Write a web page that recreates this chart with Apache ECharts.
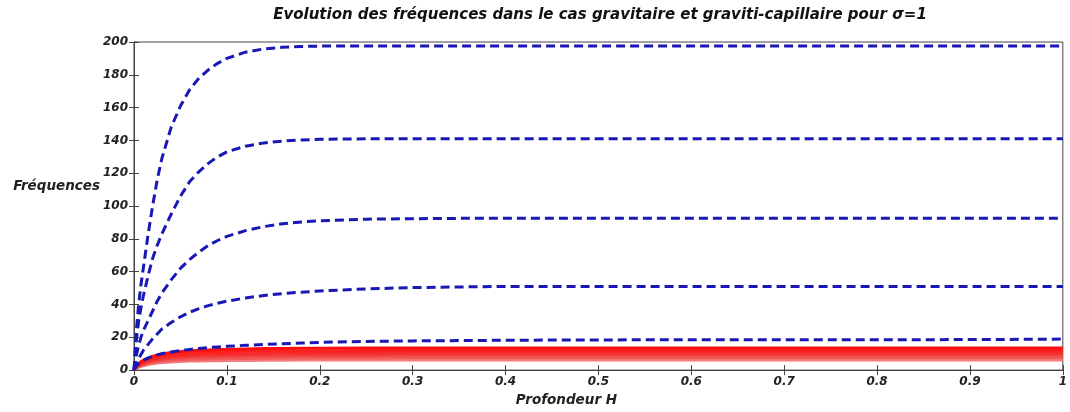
<!DOCTYPE html>
<html>
<head>
<meta charset="utf-8">
<script src="https://cdn.jsdelivr.net/npm/echarts@6/dist/echarts.min.js"></script>
<style>
  html, body { margin: 0; padding: 0; background: #fff; }
  #chart { width: 1070px; height: 412px; }
</style>
</head>
<body>
<div id="chart"></div>
<script>
// Depth samples (Profondeur H), denser near the origin where the curves rise steeply
const depthH = [0, 0.0025, 0.005, 0.0075, 0.01, 0.015, 0.02, 0.025, 0.03, 0.04, 0.05, 0.06, 0.07, 0.08, 0.09, 0.1,
                0.12, 0.14, 0.16, 0.18, 0.2, 0.25, 0.3, 0.35, 0.4, 0.5, 0.6, 0.7, 0.8, 0.9, 1.0];

// Gravity-capillary frequencies (dashed blue), one array per mode
const capMode1 = [0, 24, 40, 52, 62, 82, 100, 116, 129, 148, 161, 171, 178, 183, 187, 190,
                  193.8, 195.8, 196.8, 197.3, 197.5, 197.5, 197.5, 197.5, 197.5, 197.5, 197.5, 197.5, 197.5, 197.5, 197.5];
const capMode2 = [0, 18, 30, 38, 45, 57, 68, 76, 83, 95, 106, 115, 121, 126, 130, 133,
                  136.5, 138.5, 139.6, 140.3, 140.7, 141, 141, 141, 141, 141, 141, 141, 141, 141, 141];
const capMode3 = [0, 9, 15, 20, 24, 30, 36, 42, 47, 55, 62, 67.5, 72, 76, 79, 81.5,
                  85, 87.5, 89.2, 90.3, 91, 92, 92.3, 92.5, 92.5, 92.5, 92.5, 92.5, 92.5, 92.5, 92.5];
const capMode4 = [0, 4, 7, 9.5, 12, 15.5, 19, 22, 25, 29, 32.5, 35.3, 37.5, 39.3, 40.8, 42,
                  44, 45.5, 46.6, 47.5, 48.2, 49.5, 50.3, 50.7, 51, 51, 51, 51, 51, 51, 51];
const capMode5 = [0, 2.5, 4, 5, 6, 7.3, 8.4, 9.3, 10, 11, 11.9, 12.6, 13.2, 13.7, 14.1, 14.5,
                  15.1, 15.6, 16.1, 16.5, 16.9, 17.5, 17.8, 18, 18.2, 18.4, 18.5, 18.5, 18.5, 18.6, 18.9];

// Pure gravity frequencies (solid red), one array per mode
const gravMode1 = [0, 2.5, 4, 5.2, 6, 7.3, 8.4, 9.2, 9.9, 10.8, 11.4, 11.8, 12.1, 12.3, 12.5, 12.6,
                   12.9, 13.1, 13.2, 13.3, 13.35, 13.45, 13.5, 13.5, 13.5, 13.5, 13.5, 13.5, 13.5, 13.5, 13.5];
const gravMode2 = [0, 2.2, 3.5, 4.6, 5.3, 6.5, 7.5, 8.2, 8.8, 9.6, 10.1, 10.5, 10.8, 10.95, 11.1, 11.2,
                   11.45, 11.6, 11.7, 11.8, 11.85, 11.95, 12, 12, 12, 12, 12, 12, 12, 12, 12];
const gravMode3 = [0, 1.9, 3, 4, 4.6, 5.7, 6.6, 7.2, 7.7, 8.4, 8.8, 9.2, 9.4, 9.6, 9.7, 9.8,
                   10, 10.15, 10.25, 10.3, 10.35, 10.45, 10.5, 10.5, 10.5, 10.5, 10.5, 10.5, 10.5, 10.5, 10.5];
const gravMode4 = [0, 1.6, 2.6, 3.4, 4, 4.9, 5.6, 6.2, 6.6, 7.2, 7.6, 7.9, 8.1, 8.2, 8.3, 8.4,
                   8.6, 8.7, 8.8, 8.85, 8.9, 8.95, 9, 9, 9, 9, 9, 9, 9, 9, 9];
const gravMode5 = [0, 1.4, 2.2, 2.8, 3.3, 4.1, 4.7, 5.1, 5.5, 6, 6.3, 6.6, 6.7, 6.8, 6.9, 7,
                   7.1, 7.2, 7.3, 7.35, 7.4, 7.45, 7.5, 7.5, 7.5, 7.5, 7.5, 7.5, 7.5, 7.5, 7.5];
const gravMode6 = [0, 1.1, 1.8, 2.3, 2.7, 3.4, 3.9, 4.3, 4.6, 5, 5.3, 5.5, 5.6, 5.7, 5.75, 5.8,
                   5.9, 6, 6.05, 6.1, 6.1, 6.15, 6.2, 6.2, 6.2, 6.2, 6.2, 6.2, 6.2, 6.2, 6.2];

// Tick labels
const xTicks = ['0', '0.1', '0.2', '0.3', '0.4', '0.5', '0.6', '0.7', '0.8', '0.9', '1'];
const yTicks = ['0', '20', '40', '60', '80', '100', '120', '140', '160', '180', '200'];

const pairs = ys => depthH.map((h, i) => [h, ys[i]]);
const FONT = '"DejaVu Sans", "Liberation Sans", Arial, sans-serif';
const labelStyle = { fontFamily: FONT, fontWeight: 'bold', fontStyle: 'italic', fontSize: 12, color: '#222' };

function capSeries(ys) {
  return {
    type: 'line', data: pairs(ys), showSymbol: false, smooth: false,
    lineStyle: { color: '#1818b4', width: 3, type: [9, 5], join: 'round' }, z: 3
  };
}
function gravSeries(ys, color) {
  return {
    type: 'line', data: pairs(ys), showSymbol: false, smooth: false,
    lineStyle: { color: color, width: 3, join: 'round' }, z: 2
  };
}
const tickLabel = (list, step) => v => {
  const i = Math.round(v / step);
  return list[i] !== undefined ? list[i] : '';
};

const chart = echarts.init(document.getElementById('chart'));
chart.setOption({
  animation: false,
  backgroundColor: '#fff',
  title: {
    text: 'Evolution des fréquences dans le cas gravitaire et graviti-capillaire pour σ=1',
    left: 595, top: 3, textAlign: 'center',
    textStyle: { fontFamily: FONT, fontWeight: 'bold', fontStyle: 'italic', fontSize: 15, color: '#111' }
  },
  graphic: [{
    type: 'text', right: 970, top: 179,
    style: {
      text: 'Fréquences', fill: '#222',
      font: 'italic bold 13.5px "DejaVu Sans", "Liberation Sans", Arial, sans-serif'
    }
  }],
  grid: { left: 134, right: 3, top: 42, bottom: 37, show: true, borderColor: '#444', borderWidth: 1 },
  xAxis: [{
    type: 'value', min: 0, max: 1, interval: 0.1,
    name: 'Profondeur H', nameLocation: 'middle', nameGap: 22,
    nameTextStyle: Object.assign({}, labelStyle, { fontSize: 13.5, padding: [0, 64, 0, 0] }),
    axisLine: { lineStyle: { color: '#444' } },
    axisTick: { inside: true, length: 5, lineStyle: { color: '#444' } },
    axisLabel: Object.assign({}, labelStyle, { margin: 6, formatter: tickLabel(xTicks, 0.1) }),
    splitLine: { show: false }
  }, {
    type: 'value', min: 0, max: 1, interval: 0.1, position: 'top',
    axisLine: { lineStyle: { color: '#444' } },
    axisTick: { inside: true, length: 5, lineStyle: { color: '#444' } },
    axisLabel: { show: false }, splitLine: { show: false }
  }],
  yAxis: [{
    type: 'value', min: 0, max: 200, interval: 20,
    axisLine: { show: true, lineStyle: { color: '#444' } },
    axisTick: { show: true, inside: true, length: 5, lineStyle: { color: '#444' } },
    axisLabel: Object.assign({}, labelStyle, { margin: 6, formatter: tickLabel(yTicks, 20) }),
    splitLine: { show: false }
  }, {
    type: 'value', min: 0, max: 200, interval: 20, position: 'right',
    axisLine: { show: true, lineStyle: { color: '#444' } },
    axisTick: { show: true, inside: true, length: 5, lineStyle: { color: '#444' } },
    axisLabel: { show: false }, splitLine: { show: false }
  }],
  series: [
    gravSeries(gravMode6, '#f47c7c'),
    gravSeries(gravMode5, '#f25a5a'),
    gravSeries(gravMode4, '#f04040'),
    gravSeries(gravMode3, '#f52a2a'),
    gravSeries(gravMode2, '#ff2020'),
    gravSeries(gravMode1, '#ff1010'),
    capSeries(capMode5),
    capSeries(capMode4),
    capSeries(capMode3),
    capSeries(capMode2),
    capSeries(capMode1)
  ]
});
</script>
</body>
</html>
